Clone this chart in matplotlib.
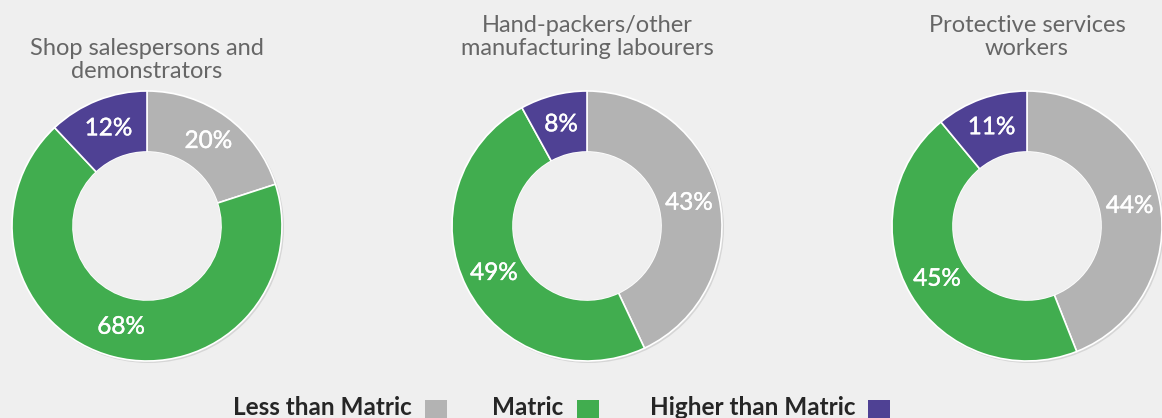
import matplotlib
matplotlib.use("Agg")
import matplotlib.pyplot as plt
import matplotlib.patheffects as pe
from matplotlib.patches import Rectangle, Circle

plt.rcParams['font.family'] = ['Lato', 'DejaVu Sans']

# Data
categories = ["Less than Matric", "Matric", "Higher than Matric"]
occupations = [
    "Shop salespersons and\ndemonstrators",
    "Hand-packers/other\nmanufacturing labourers",
    "Protective services\nworkers",
]
shop_sales = [20, 68, 12]
hand_packers = [43, 49, 8]
protective = [44, 45, 11]
series = [shop_sales, hand_packers, protective]

colors = ["#b3b3b3", "#41ad4f", "#4f4194"]
bg = "#efefef"

W, H = 1162, 418
fig = plt.figure(figsize=(W / 100, H / 100), dpi=100, facecolor=bg)
ax = fig.add_axes([0, 0, 1, 1])
ax.set_facecolor(bg)

centers_x = [147, 587, 1027]
center_y = 226
radius = 135
ring = 61
title_y = [60, 37, 37]

for cx, vals, title, ty in zip(centers_x, series, occupations, title_y):
    cy = H - center_y
    # soft shadow behind the ring
    ax.add_patch(Circle((cx + 1.5, cy - 1.5), radius + 0.5, facecolor="#d6d6d6",
                        edgecolor="none", zorder=0))
    ax.add_patch(Circle((cx, cy), radius - ring, facecolor=bg, edgecolor="none", zorder=3))
    _, _, pct_texts = ax.pie(vals, colors=colors, startangle=90, counterclock=False,
                             center=(cx, cy), radius=radius,
                             wedgeprops=dict(width=ring, edgecolor="white", linewidth=1.2),
                             autopct=lambda p: f"{p:.0f}%",
                             pctdistance=1 - ring / 2 / radius,
                             textprops=dict(color="white", fontsize=17.5, fontweight="normal"))
    for t in pct_texts:
        t.set_path_effects([pe.withStroke(linewidth=0.3, foreground="white")])
    ax.text(cx, H - ty, title, ha="center", va="center", fontsize=17,
            color="#666666", linespacing=1.12, fontweight="normal")

# Legend row
legend_text_right = [412, 563, 855]
legend_box_left = [425, 577, 868]
box = 22
for name, col, tx, bx in zip(categories, colors, legend_text_right, legend_box_left):
    ax.text(tx, H - 415, name, ha="right", va="baseline", fontsize=17.5,
            color="#262626", fontweight="bold")
    ax.add_patch(Rectangle((bx, H - 422), box, box, facecolor=col, edgecolor="none"))

ax.set_xlim(0, W)
ax.set_ylim(0, H)
ax.set_aspect("equal")
ax.axis("off")

fig.savefig("out.png", dpi=100, facecolor=bg)
